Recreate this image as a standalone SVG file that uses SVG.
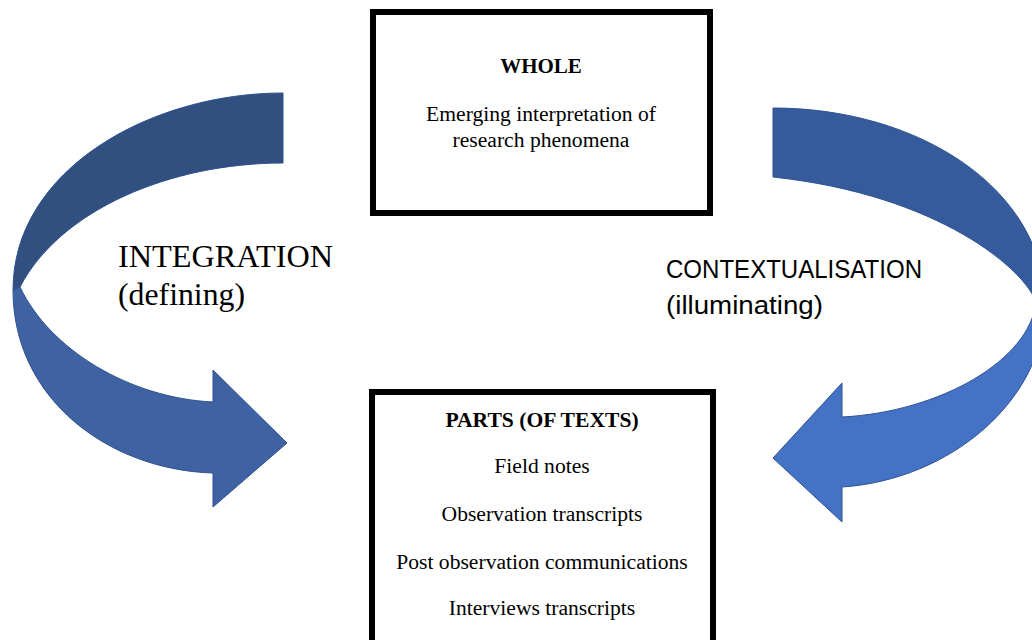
<svg xmlns="http://www.w3.org/2000/svg" width="1032" height="640" viewBox="0 0 1032 640">
<style>
.box{fill:#fff;stroke:#000;stroke-width:6}
.serif{font-family:"Liberation Serif","Times New Roman",serif;fill:#000}
.b{font-weight:bold}
.t{font-size:21.6px;text-anchor:middle}
.big{font-size:32px}
.sans{font-family:"Liberation Sans",Arial,sans-serif;font-size:25px;fill:#000}
.edge{stroke:#2f528f;stroke-width:1;stroke-linejoin:round}
</style>
<rect width="1032" height="640" fill="#fff"/>
<g id="connectors">
  <g id="integration-arrow">
    <path class="edge" fill="#32507f" d="M283,93 C150,93 13,170 13,290 L20,287 C60,210 170,163 283,163 Z"/>
    <path class="edge" fill="#3f62a2" d="M20,287 C50,350 130,398 213,402 L213,370 L287,443 L213,507 L213,473 C110,470 13,400 13,290 Z"/>
  </g>
  <g id="contextualisation-arrow">
    <path class="edge" fill="#365b9c" d="M773,108 C920,108 1045,190 1045,305 L1036,302 C1025,270 940,195 773,177 Z"/>
    <path class="edge" fill="#4472c4" d="M1036,302 C1030,360 940,412 842,417 L842,383 L773,458 L842,522 L842,487 C950,480 1045,400 1045,305 Z"/>
  </g>
</g>
<g id="whole">
  <rect class="box" x="373" y="12" width="337" height="201"/>
  <text class="serif b t" x="541" y="73" style="font-size:21px">WHOLE</text>
  <text class="serif t" x="541" y="121">Emerging interpretation of</text>
  <text class="serif t" x="541" y="147">research phenomena</text>
</g>
<g id="parts">
  <rect class="box" x="372" y="392" width="341" height="260"/>
  <text class="serif b t" x="542" y="427">PARTS (OF TEXTS)</text>
  <text class="serif t" x="542" y="473">Field notes</text>
  <text class="serif t" x="542" y="521">Observation transcripts</text>
  <text class="serif t" x="542" y="569">Post observation communications</text>
  <text class="serif t" x="542" y="615">Interviews transcripts</text>
</g>
<g id="integration-label">
  <text class="serif big" x="118" y="267" textLength="215" lengthAdjust="spacingAndGlyphs">INTEGRATION</text>
  <text class="serif big" x="118" y="305" textLength="127" lengthAdjust="spacingAndGlyphs">(defining)</text>
</g>
<g id="contextualisation-label">
  <text class="sans" x="666" y="278" textLength="256" lengthAdjust="spacingAndGlyphs">CONTEXTUALISATION</text>
  <text class="sans" x="666" y="314" textLength="157" lengthAdjust="spacingAndGlyphs">(illuminating)</text>
</g>
</svg>
